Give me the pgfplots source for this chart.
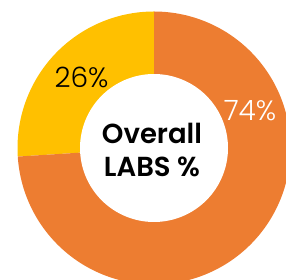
\documentclass[border=0pt]{standalone}
\usepackage{pgfplots}
\pgfplotsset{compat=1.18}
\usepackage{fontspec}
\setmainfont{Poppins}[BoldFont={Poppins SemiBold}]
\newfontfamily\lightfont{Poppins Light}
\definecolor{cOrange}{HTML}{ED7D31}
\definecolor{cYellow}{HTML}{FFC000}
% shares (percent)
\def\valA{26}% LABS
\def\valB{74}% other
\def\Rout{136.5}
\def\Rin{74}
\begin{document}
\begin{tikzpicture}
\begin{axis}[
  scale only axis, width=286pt, height=280pt,
  xmin=-154, xmax=132, ymin=-132, ymax=148,
  hide axis, clip=true,
]
% yellow: from 90 deg counter-clockwise by 26%
\addplot[fill=cYellow, draw=none, domain=90:90+3.6*\valA, samples=80]
  ({\Rout*cos(x)},{\Rout*sin(x)}) -- (axis cs:0,0) -- cycle;
% orange: the remaining 74%
\addplot[fill=cOrange, draw=none, domain=90+3.6*\valA:450, samples=200]
  ({\Rout*cos(x)},{\Rout*sin(x)}) -- (axis cs:0,0) -- cycle;
% hole
\addplot[fill=white, draw=none, domain=0:360, samples=150]
  ({\Rin*cos(x)},{\Rin*sin(x)}) -- cycle;
\node[font=\lightfont\fontsize{28}{30}\selectfont, text=black] at (axis cs:-72.5,71) {26\%};
\node[font=\lightfont\fontsize{28}{30}\selectfont, text=white] at (axis cs:96,37) {74\%};
\node[font=\bfseries\fontsize{27.5}{33}\selectfont, align=center, text=black] at (axis cs:-2,-2) {Overall\\LABS \%};
\end{axis}
\pgfresetboundingbox
\path[use as bounding box] (current axis.south west) rectangle (current axis.north east);
\end{tikzpicture}
\end{document}
